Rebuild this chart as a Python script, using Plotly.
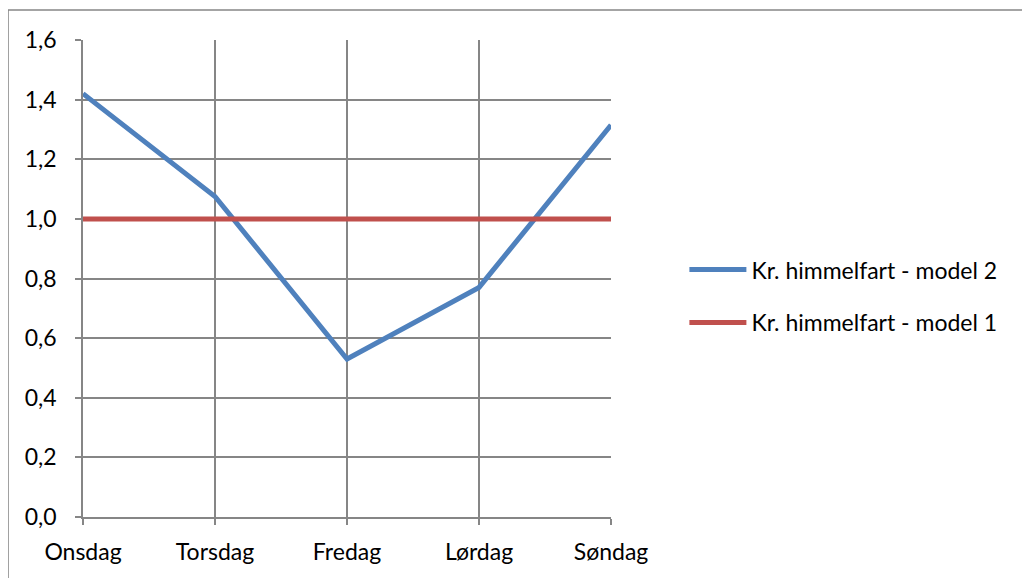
import plotly.graph_objects as go

days = ["Onsdag", "Torsdag", "Fredag", "Lørdag", "Søndag"]
model2 = [1.42, 1.075, 0.53, 0.77, 1.315]
model1 = [1.0, 1.0, 1.0, 1.0, 1.0]
y_ticks = [0, 0.2, 0.4, 0.6, 0.8, 1.0, 1.2, 1.4, 1.6]

fig = go.Figure()
fig.add_trace(go.Scatter(x=days, y=model2, mode="lines", name="Kr. himmelfart - model 2",
                         line=dict(color="#4F81BD", width=5), legendgroup="a"))
fig.add_trace(go.Scatter(x=days, y=model1, mode="lines", name="Kr. himmelfart - model 1",
                         line=dict(color="#C0504D", width=5), legendgroup="b"))

font = dict(family="Lato, Open Sans, sans-serif", size=23, color="#000000")
fig.update_layout(
    width=1022, height=570,
    margin=dict(l=75, r=419, t=32, b=61),
    paper_bgcolor="white", plot_bgcolor="white",
    separators=", ",
    font=font,
    showlegend=True,
    legend=dict(x=1.139, y=0.463, xanchor="left", yanchor="middle", itemwidth=57,
                tracegroupgap=20, font=font, bgcolor="rgba(0,0,0,0)"),
    xaxis=dict(type="category", range=[0, 4], showgrid=True, gridcolor="#868686", gridwidth=1.5,
               showline=True, linecolor="#868686", linewidth=1.5, ticks="outside", ticklen=6,
               tickcolor="#868686", tickwidth=1.5, zeroline=False, tickfont=font,
               ticklabelstandoff=8),
    yaxis=dict(range=[0, 1.6], tickvals=y_ticks, tickformat=".1f", showgrid=True,
               gridcolor="#868686", gridwidth=1.5, showline=True, linecolor="#868686", linewidth=1.5,
               ticks="outside", ticklen=6, tickcolor="#868686", tickwidth=1.5, zeroline=False,
               tickfont=font, ticklabelstandoff=14),
    shapes=[dict(type="path", xref="paper", yref="paper",
                 path="M -0.142,-0.2 L -0.142,1.063 L 1.85,1.063",
                 line=dict(color="#868686", width=1.5))],
)
fig.write_html("out.html")
